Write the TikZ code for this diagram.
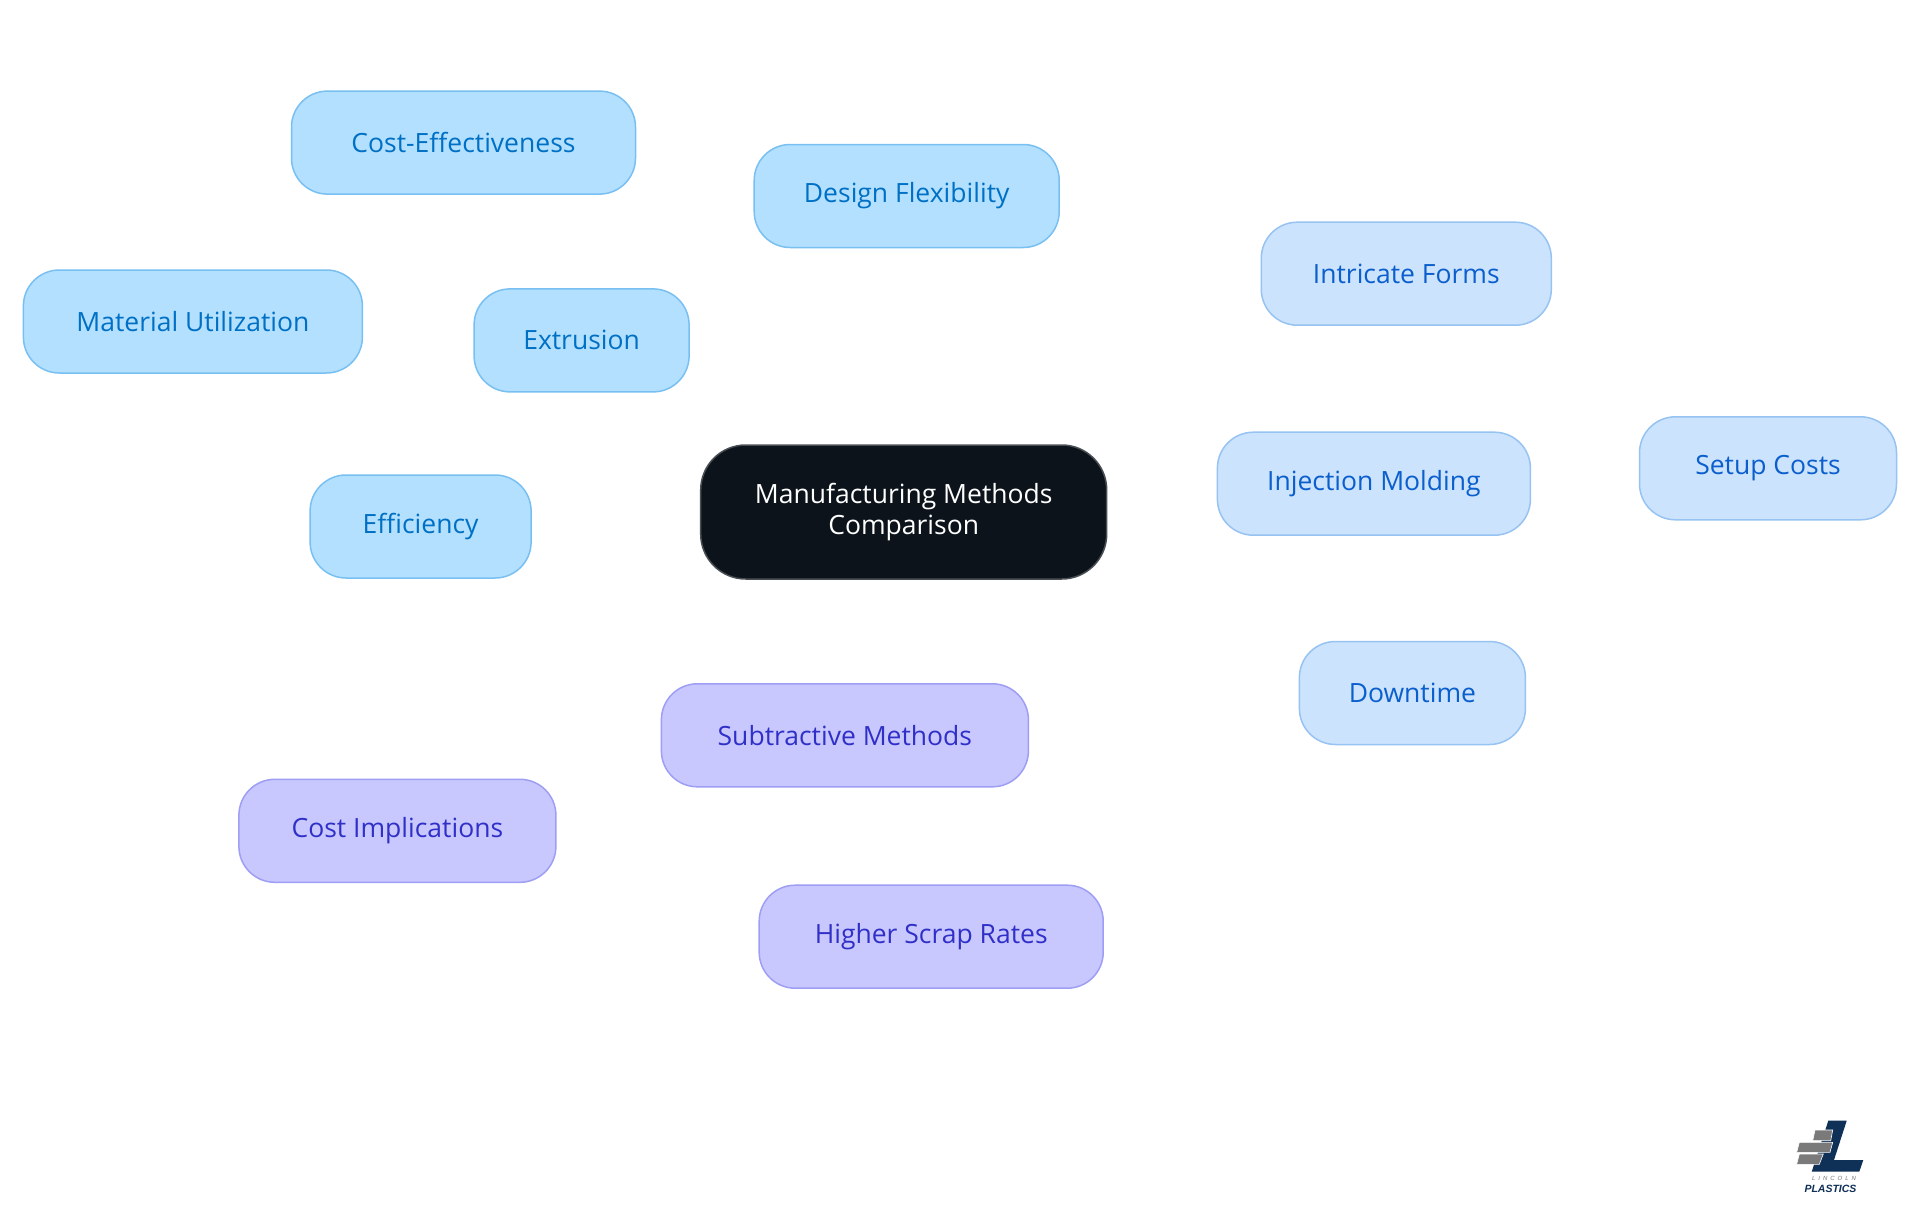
\documentclass[tikz,border=0pt]{standalone}
\usepackage{fontspec}
\setmainfont{Open Sans}
\newfontfamily\logofont{Liberation Sans}
\usetikzlibrary{backgrounds}
\definecolor{exf}{HTML}{B3E0FF}\definecolor{exs}{HTML}{79C0F2}\definecolor{ext}{HTML}{0070C4}
\definecolor{inf}{HTML}{CCE3FD}\definecolor{ins}{HTML}{97C3F2}\definecolor{int}{HTML}{0B5FCC}
\definecolor{suf}{HTML}{C8C8FF}\definecolor{sus}{HTML}{9E9EF5}\definecolor{sut}{HTML}{3030C8}
\definecolor{rof}{HTML}{0C131B}\definecolor{ros}{HTML}{4A4F55}
\definecolor{navy}{HTML}{0F3057}\definecolor{lgray}{HTML}{7A7A7A}
\tikzset{
 x=1pt,y=-1pt,
 mm/.style={rectangle,rounded corners=36pt,line width=1.5pt,inner sep=0pt,align=center,minimum height=103pt,
   font=\fontsize{26.5}{30.6}\selectfont},
 exn/.style={mm,fill=exf,draw=exs,text=ext},
 inn/.style={mm,fill=inf,draw=ins,text=int},
 sun/.style={mm,fill=suf,draw=sus,text=sut},
 ron/.style={mm,fill=rof,draw=ros,text=white,rounded corners=45pt,minimum height=134pt},
 exl/.style={draw=exs,line width=4pt},
 inl/.style={draw=ins,line width=4pt},
 sul/.style={draw=sus,line width=4pt},
 gb/.style={fill=lgray,draw=white,line width=.6pt},
}
\begin{document}
\begin{tikzpicture}
\useasboundingbox[fill=white] (0,0) rectangle (1920,1215);
\node[ron,minimum width=406pt] (root) at (903.7,512) {Manufacturing Methods\\Comparison};
\node[exn,minimum width=215pt] (extr) at (581.6,340.4) {Extrusion};
\node[exn,minimum width=344pt] (cost) at (463.5,142.6) {Cost-Effectiveness};
\node[exn,minimum width=305pt] (desi) at (906.7,196) {Design Flexibility};
\node[exn,minimum width=339pt] (mate) at (192.9,321.5) {Material Utilization};
\node[exn,minimum width=221pt] (effi) at (420.6,526.5) {Efficiency};
\node[inn,minimum width=313pt] (inje) at (1373.9,483.7) {Injection Molding};
\node[inn,minimum width=290pt] (intr) at (1406.3,273.7) {Intricate Forms};
\node[inn,minimum width=257pt] (setu) at (1768,468.3) {Setup Costs};
\node[inn,minimum width=226pt] (down) at (1412.4,693) {Downtime};
\node[sun,minimum width=367pt] (subt) at (844.9,735.3) {Subtractive Methods};
\node[sun,minimum width=317pt] (cimp) at (397.4,830.8) {Cost Implications};
\node[sun,minimum width=344pt] (high) at (931.2,936.7) {Higher Scrap Rates};
\begin{pgfonlayer}{background}
\draw[exl] (root.center) -- (extr.center);
\draw[exl] (extr.center) -- (cost.center);
\draw[exl] (extr.center) -- (desi.center);
\draw[exl] (extr.center) -- (mate.center);
\draw[exl] (extr.center) -- (effi.center);
\draw[inl] (root.center) -- (inje.center);
\draw[inl] (inje.center) -- (intr.center);
\draw[inl] (inje.center) -- (setu.center);
\draw[inl] (inje.center) -- (down.center);
\draw[sul] (root.center) -- (subt.center);
\draw[sul] (subt.center) -- (cimp.center);
\draw[sul] (subt.center) -- (high.center);
\end{pgfonlayer}
% logo
\fill[navy] (1828.3,1120.7) -- (1846.7,1120.7) -- (1834,1160) -- (1863.3,1160) -- (1859.3,1171.7) -- (1811.7,1171.7) -- cycle;
\draw[gb] (1815,1130) -- (1832.7,1130) -- (1830.7,1140.7) -- (1812.7,1140.7) -- cycle;
\draw[gb] (1799.3,1142.3) -- (1832.7,1142.3) -- (1830,1152.3) -- (1796.7,1152.3) -- cycle;
\draw[gb] (1799.3,1154) -- (1823.3,1154) -- (1819.3,1164.3) -- (1796.7,1164.3) -- cycle;
\node[inner sep=0pt,text=lgray,font=\logofont\itshape\fontsize{6}{6}\selectfont] (lin) at (1834,1178.5) {L\,\,\,I\,\,\,N\,\,\,C\,\,\,O\,\,\,L\,\,\,N};
\node[inner sep=0pt,text=navy,font=\logofont\itshape\bfseries\fontsize{10.5}{10.5}\selectfont] (pla) at (1830.5,1188.5) {PLASTICS};
\end{tikzpicture}
\end{document}
